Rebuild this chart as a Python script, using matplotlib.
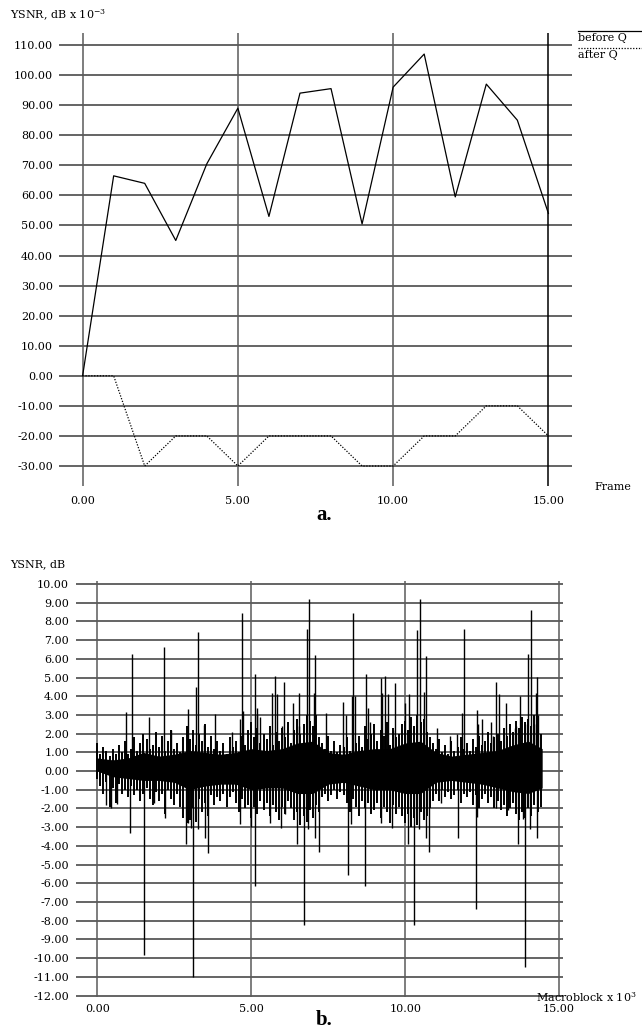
import numpy as np
import matplotlib
matplotlib.use("Agg")
import matplotlib.pyplot as plt

plt.rcParams['font.family'] = ['DejaVu Serif']
plt.rcParams['mathtext.fontset'] = 'dejavuserif'

# ---------------- data: chart a ----------------
frames = [0, 1, 2, 3, 4, 5, 6, 7, 8, 9, 10, 11, 12, 13, 14, 15]
before_q = [0, 66.5, 64.0, 45.0, 70.5, 89.0, 53.0, 94.0, 95.5, 50.5, 96.0, 107.0, 59.5, 97.0, 85.0, 54.0]
after_q = [0, 0, -30, -20, -20, -30, -20, -20, -20, -30, -30, -20, -20, -10, -10, -20]
a_yticks = [110, 100, 90, 80, 70, 60, 50, 40, 30, 20, 10, 0, -10, -20, -30]
a_xticks = [0, 5, 10, 15]

# ---------------- data: chart b ----------------
# dense core of the signal (Macroblock x 10^3 positions)
band_x = [0, 0.5, 1, 1.5, 2, 2.5, 3, 3.5, 4, 4.5, 5, 5.5, 6, 6.5, 7, 7.5, 8, 8.5,
          9, 9.5, 10, 10.5, 11, 11.5, 12, 12.5, 13, 13.5, 14, 14.45]
inner_hi = [0.7, 0.6, 0.7, 1.0, 0.8, 0.9, 1.1, 1.0, 0.9, 1.0, 1.2, 1.1, 1.2, 1.5, 1.6,
            1.0, 0.9, 1.1, 1.2, 1.2, 1.5, 1.6, 1.0, 0.8, 0.9, 1.0, 1.1, 1.4, 1.6, 1.2]
inner_lo = [0.0, -0.3, -0.4, -0.5, -0.5, -0.6, -1.0, -0.8, -0.7, -0.7, -1.0, -0.9, -0.9,
            -1.2, -1.2, -0.7, -0.6, -0.8, -1.0, -1.0, -1.2, -1.2, -0.6, -0.5, -0.6, -0.7,
            -0.9, -1.1, -1.2, -0.9]

# medium excursions, one every 0.1 x 10^3 macroblocks (0.0 ... 14.4)
med_x = [i / 10 for i in range(145)]
med_hi = [1.5, 0.9, 1.3, 1.1, 0.8, 1.2, 0.9, 1.4, 1.0, 1.6,
          0.9, 1.2, 1.8, 1.1, 1.5, 2.0, 1.7, 1.2, 1.4, 2.1,
          1.3, 1.9, 1.1, 1.6, 2.2, 1.2, 1.5, 1.0, 1.8, 2.4,
          1.7, 2.2, 1.4, 2.0, 1.6, 2.5, 1.3, 1.9, 1.2, 1.6,
          1.1, 1.5, 0.9, 1.8, 1.3, 1.6, 1.0, 1.9, 1.4, 2.2,
          2.6, 1.8, 2.3, 1.5, 2.0, 1.7, 2.4, 1.4, 2.1, 1.6,
          2.3, 1.8, 2.6, 1.5, 2.2, 2.8, 2.0, 2.5, 3.0, 2.7,
          2.4, 3.0, 1.8, 1.5, 1.2, 1.9, 1.1, 1.6, 1.0, 1.4,
          1.3, 1.8, 1.1, 2.2, 1.5, 1.9, 1.3, 2.4, 1.7, 2.0,
          2.5, 1.6, 2.2, 1.9, 2.6, 1.4, 2.3, 1.8, 2.0, 2.5,
          2.7, 2.2, 2.9, 2.4, 3.0, 2.6, 2.8, 2.1, 1.8, 1.5,
          1.2, 1.7, 1.0, 1.4, 0.9, 1.6, 1.1, 1.3, 1.8, 1.2,
          1.5, 1.1, 1.7, 1.3, 1.9, 1.4, 1.6, 2.1, 1.5, 1.8,
          2.0, 1.6, 2.3, 1.9, 2.5, 2.1, 2.7, 2.3, 2.9, 2.6,
          2.8, 2.4, 3.0, 2.5, 2.0]
med_lo = [-0.4, -0.8, -1.2, -0.6, -1.9, -0.9, -1.7, -0.7, -1.2, -1.0,
          -1.4, -0.8, -1.3, -1.0, -1.6, -1.2, -0.9, -1.5, -1.8, -1.1,
          -1.6, -1.2, -2.3, -1.0, -1.5, -1.8, -1.2, -1.9, -2.5, -2.8,
          -2.6, -2.0, -2.7, -1.5, -2.2, -1.7, -2.4, -1.3, -1.8, -1.4,
          -1.6, -1.2, -1.9, -1.4, -1.1, -1.7, -2.2, -1.5, -2.0, -1.8,
          -2.5, -1.9, -2.3, -1.6, -2.1, -1.7, -2.4, -1.8, -2.2, -2.6,
          -1.9, -2.3, -1.6, -2.0, -2.6, -2.2, -2.9, -2.4, -2.7, -2.1,
          -2.5, -1.8, -2.2, -1.4, -1.2, -1.6, -1.3, -1.0, -1.5, -1.1,
          -1.3, -1.7, -2.2, -1.5, -1.9, -2.4, -1.6, -2.0, -1.7, -2.3,
          -2.1, -1.7, -2.5, -1.9, -2.2, -2.8, -1.8, -2.3, -1.9, -2.4,
          -2.8, -2.3, -3.0, -2.5, -2.9, -2.2, -2.6, -2.4, -2.0, -1.6,
          -1.2, -1.6, -1.0, -1.4, -1.1, -1.5, -1.3, -1.0, -1.7, -1.2,
          -1.4, -1.1, -1.8, -1.3, -2.0, -1.5, -1.2, -1.7, -1.4, -2.0,
          -1.6, -2.1, -1.8, -2.4, -2.0, -1.7, -2.3, -2.6, -2.2, -2.5,
          -2.0, -2.4, -1.8, -2.2, -1.9]

pos_spike_x = [0.93, 1.13, 1.67, 2.16, 2.40, 2.94, 3.20, 3.28, 3.46, 3.83, 4.37, 4.64,
               4.71, 4.74, 5.12, 5.18, 5.20, 5.28, 5.68, 5.76, 5.84, 6.00, 6.06, 6.37,
               6.54, 6.56, 6.80, 6.88, 7.03, 7.06, 7.44, 7.97, 8.08, 8.26, 8.32, 8.36,
               8.72, 8.80, 8.86, 9.20, 9.26, 9.36, 9.43, 9.60, 9.66, 9.98, 10.14, 10.40,
               10.48, 10.60, 10.67, 11.03, 11.47, 11.69, 11.86, 11.92, 12.33, 12.37,
               12.48, 12.79, 12.86, 12.95, 13.05, 13.27, 13.57, 13.60, 13.73, 13.90,
               13.99, 14.08, 14.20, 14.25, 14.28, 14.32]
pos_spike_y = [3.15, 6.25, 2.9, 6.65, 2.2, 3.3, 4.5, 7.45, 2.45, 3.05, 2.1, 2.8,
               8.45, 3.2, 5.2, 3.0, 3.35, 2.9, 4.2, 5.1, 4.1, 2.4, 4.75, 3.65,
               4.15, 2.4, 7.6, 9.2, 4.2, 6.2, 3.1, 3.7, 3.0, 4.0, 8.45, 4.0,
               5.18, 3.36, 2.6, 5.0, 4.16, 5.07, 4.1, 2.2, 4.7, 3.63, 4.1, 7.55,
               9.2, 4.25, 6.18, 2.3, 1.9, 2.0, 3.1, 7.59, 3.27, 2.5,
               2.8, 2.6, 1.9, 4.75, 4.1, 3.63, 2.3, 2.4, 4.0, 2.5,
               6.27, 8.59, 2.5, 4.15, 5.05, 3.0]
neg_spike_x = [0.30, 0.46, 0.65, 1.05, 1.53, 1.83, 2.20, 2.89, 2.96, 3.05, 3.12, 3.27,
               3.49, 3.60, 4.63, 5.00, 5.11, 5.62, 5.96, 6.10, 6.49, 6.70, 6.86, 7.08,
               7.20, 8.15, 8.24, 8.71, 9.23, 9.57, 10.08, 10.30, 10.45, 10.67, 10.78,
               11.18, 11.73, 12.30, 12.33, 12.94, 13.34, 13.67, 13.84, 13.90, 14.06, 14.27]
neg_spike_y = [-1.8, -2.0, -1.76, -3.3, -9.83, -1.73, -2.53, -3.9, -2.8, -3.06, -11.02, -3.12,
               -3.56, -4.36, -2.85, -2.97, -6.14, -2.76, -3.06, -2.3, -3.9, -8.23, -3.12, -3.56,
               -4.34, -5.55, -2.85, -6.14, -2.76, -3.06, -3.9, -8.23, -3.12, -3.56, -4.34,
               -1.7, -3.56, -7.39, -2.44, -2.0, -2.1, -3.9, -2.58, -10.45, -3.12, -3.56]
b_yticks = list(range(10, -13, -1))
b_xticks = [0, 5, 10, 15]

# ---------------- figure ----------------
W, H = 642, 1031
fig = plt.figure(figsize=(W / 100, H / 100), dpi=100)

def fx(px):
    return px / W

def fy(py):
    return 1 - py / H

num_fs = 8
grid_h = '#3a3a3a'
grid_v = '#5a5a5a'

# ---- chart a ----
axa = fig.add_axes([fx(59), fy(486), fx(571.7) - fx(59), fy(33) - fy(486)])
axa.set_xlim(-0.76, 15.75)
axa.set_ylim(-36.65, 114)
for s in axa.spines.values():
    s.set_visible(False)
axa.set_yticks(a_yticks)
axa.set_yticklabels([f"{v:.2f}" for v in a_yticks], fontsize=num_fs)
axa.set_xticks(a_xticks)
axa.set_xticklabels([f"{v:.2f}" for v in a_xticks], fontsize=num_fs)
axa.tick_params(axis='both', length=0)
axa.tick_params(axis='y', pad=4.3)
axa.tick_params(axis='x', pad=7)
for v in a_yticks:
    axa.axhline(v, color=grid_h, lw=1.1, zorder=1)
for v in a_xticks:
    axa.axvline(v, color=('black' if v == 15 else grid_v), lw=1.1, zorder=1)
axa.plot(frames, before_q, color='black', lw=0.9, zorder=3)
axa.plot(frames, after_q, color='black', lw=0.9, ls=(0, (1, 1.3)), zorder=3)

fig.text(fx(10), fy(15), r"YSNR, dB x 10$^{-3}$", fontsize=num_fs, ha='left', va='center')
fig.text(fx(594), fy(487), "Frame", fontsize=num_fs, ha='left', va='center')
fig.text(fx(324), fy(515), "a.", fontsize=15, fontweight='bold',
         family='Liberation Serif', ha='center', va='center')

# legend
fig.add_artist(plt.Line2D([fx(578), fx(642)], [fy(31), fy(31)], color='black', lw=0.9))
fig.add_artist(plt.Line2D([fx(578), fx(642)], [fy(48), fy(48)], color='black', lw=0.9,
                          ls=(0, (1, 1.3))))
fig.text(fx(578), fy(38), "before Q", fontsize=num_fs, ha='left', va='center')
fig.text(fx(578), fy(55), "after Q", fontsize=num_fs, ha='left', va='center')

# ---- chart b ----
axb = fig.add_axes([fx(76), fy(997), fx(562.5) - fx(76), fy(580.7) - fy(997)])
axb.set_xlim(-0.69, 15.11)
axb.set_ylim(-12.08, 10.18)
for s in axb.spines.values():
    s.set_visible(False)
axb.set_yticks(b_yticks)
axb.set_yticklabels([f"{v:.2f}" for v in b_yticks], fontsize=num_fs)
axb.set_xticks(b_xticks)
axb.set_xticklabels([f"{v:.2f}" for v in b_xticks], fontsize=num_fs)
axb.tick_params(axis='both', length=0)
axb.tick_params(axis='y', pad=5)
axb.tick_params(axis='x', pad=5)
for v in b_yticks:
    axb.axhline(v, color=grid_h, lw=1.1, zorder=1)
for v in b_xticks:
    axb.axvline(v, color=grid_v, lw=1.1, zorder=1)

axb.vlines(med_x, med_lo, med_hi, color='black', lw=1.4, zorder=2)
axb.fill_between(band_x, inner_lo, inner_hi, color='black', lw=0, zorder=3)
axb.vlines(pos_spike_x, 0, pos_spike_y, color='black', lw=1.0, zorder=4)
axb.vlines(neg_spike_x, 0, neg_spike_y, color='black', lw=1.0, zorder=4)

fig.text(fx(10), fy(564), "YSNR, dB", fontsize=num_fs, ha='left', va='center')
fig.text(fx(536), fy(997), r"Macroblock x 10$^{3}$", fontsize=num_fs, ha='left', va='center')
fig.text(fx(324), fy(1020), "b.", fontsize=15, fontweight='bold',
         family='Liberation Serif', ha='center', va='center')

fig.savefig("out.png", dpi=100, facecolor='white')
